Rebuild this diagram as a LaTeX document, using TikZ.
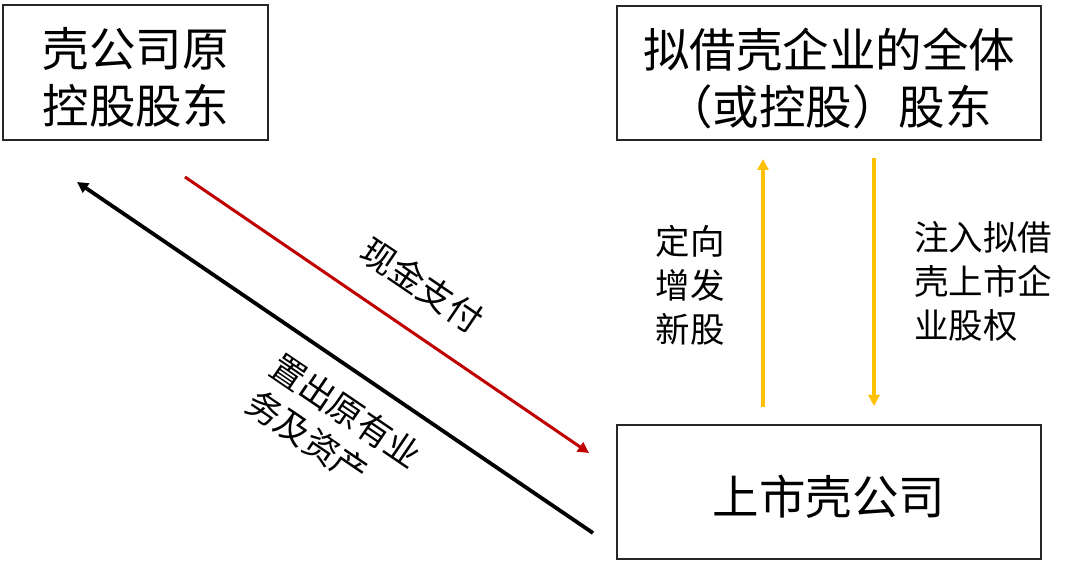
\documentclass[tikz,border=0pt]{standalone}
\usepackage{fontspec}
\setmainfont{Noto Sans CJK SC}
\usetikzlibrary{arrows.meta}
\definecolor{myred}{HTML}{C00000}
\definecolor{myyellow}{HTML}{FFC000}
\tikzset{
  box/.style={draw=black!85, line width=1.5pt, inner sep=0pt},
  boxtext/.style={inner sep=0pt, align=center, yshift=-5pt,
    font=\fontsize{46.5}{57}\selectfont},
  lbl/.style={inner sep=0pt, align=left, font=\fontsize{34.5}{44}\selectfont},
  tri/.style={-{Triangle[length=11pt,width=11pt]}},
}
\begin{document}
\begin{tikzpicture}[x=1pt,y=-1pt]
\useasboundingbox (0,0) rectangle (1080,561);
\node[box, minimum width=265pt, minimum height=135pt] (A) at (135.5,72.5) {};
\node[box, minimum width=424pt, minimum height=134pt] (B) at (829,73) {};
\node[box, minimum width=424pt, minimum height=134pt] (C) at (829,492) {};
\node[boxtext] (At) at (A.center) {壳公司原\\控股股东};
\node[boxtext] (Bt) at (B.center) {拟借壳企业的全体\\（或控股）股东};
\node[boxtext] (Ct) at (C.center) {上市壳公司};

\coordinate (bk1) at (593,533);
\coordinate (bk2) at (77,182);
\coordinate (rd1) at (185,177);
\coordinate (rd2) at (589,453);
\coordinate (yu1) at (763,407);
\coordinate (yu2) at (763,159);
\coordinate (yd1) at (874,158);
\coordinate (yd2) at (874,406);

\draw[tri, line width=3.8pt, black] (bk1) -- (bk2);
\draw[tri, line width=3pt, myred] (rd1) -- (rd2);
\draw[tri, line width=3.3pt, myyellow] (yu1) -- (yu2);
\draw[tri, line width=3.3pt, myyellow] (yd1) -- (yd2);

\node[lbl, rotate=-34.2] (cash) at (422,285) {现金支付};
\node[lbl, rotate=-34.2] (out) at (334,429) {置出原有业\\务及资产};
\node[lbl] (issue) at (690,285) {定向\\增发\\新股};
\node[lbl] (inject) at (983,281) {注入拟借\\壳上市企\\业股权};
\end{tikzpicture}
\end{document}
